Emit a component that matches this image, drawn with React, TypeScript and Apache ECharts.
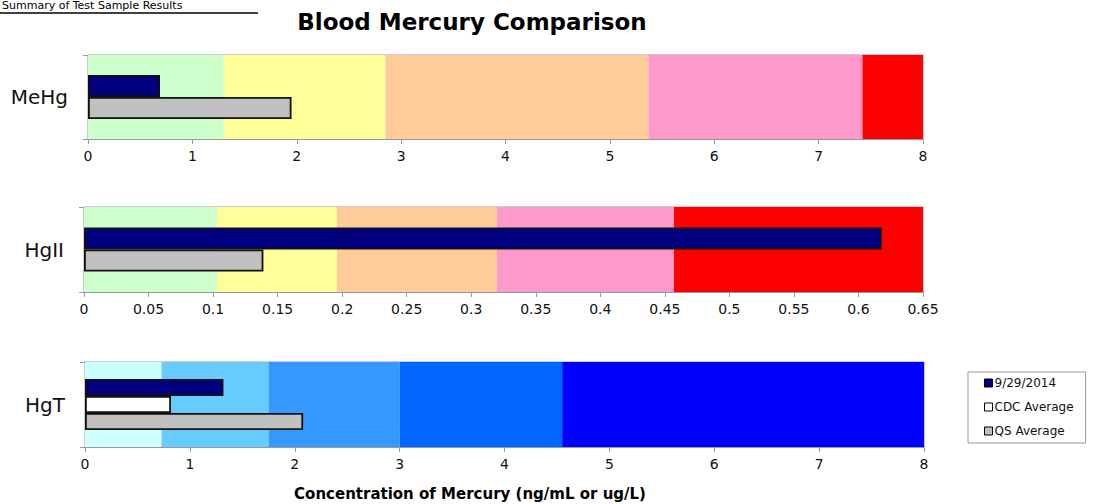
import React, { useEffect, useRef } from "react";
import * as echarts from "echarts";

const title = "Blood Mercury Comparison";
const headerText = "Summary of Test Sample Results";
const axisTitle = "Concentration of Mercury (ng/mL or ug/L)";
const seriesNames = ["9/29/2014", "CDC Average", "QS Average"];
const seriesColors = ["#000080", "#FFFFFF", "#C0C0C0"];

const categories = ["MeHg", "HgII", "HgT"];

// per-panel values: [9/29/2014, CDC Average, QS Average] (null = not shown)
const meHgValues = [0.69, null, 1.95];
const hgIIValues = [0.618, null, 0.139];
const hgTValues = [1.32, 0.82, 2.08];

// background range boundaries
const meHgBands = [0, 1.3, 2.85, 5.37, 7.42, 8];
const hgIIBands = [0, 0.103, 0.196, 0.32, 0.457, 0.65];
const hgTBands = [0, 0.73, 1.75, 3.0, 4.55, 8];

const warmColors = ["#CCFFCC", "#FFFF99", "#FFCC99", "#FF99CC", "#FF0000"];
const blueColors = ["#CCFFFF", "#66CCFF", "#3399FF", "#0066FF", "#0000FF"];

const axisMax = [8, 0.65, 8];
const axisInterval = [1, 0.05, 1];

const FONT = "DejaVu Sans";

export default function App() {
  const ref = useRef<HTMLDivElement>(null);

  useEffect(() => {
    if (!ref.current) return;
    const chart = echarts.init(ref.current, null, { renderer: "svg" });

    const grids = [
      { left: 88, top: 55, width: 835, height: 84 },
      { left: 84, top: 207, width: 839, height: 85 },
      { left: 85, top: 362, width: 839, height: 85 },
    ];
    const panelValues = [meHgValues, hgIIValues, hgTValues];
    const panelBands = [meHgBands, hgIIBands, hgTBands];
    const panelColors = [warmColors, warmColors, blueColors];
    const barWidths = [22, 22, 17];

    const series: any[] = [];
    panelValues.forEach((vals, p) => {
      const bands = panelBands[p];
      const cols = panelColors[p];
      const areaData = cols.map((c, i) => [
        { xAxis: bands[i], itemStyle: { color: c, opacity: 1 } },
        { xAxis: bands[i + 1] },
      ]);
      let first = true;
      vals.forEach((v, s) => {
        if (v === null) return;
        const ser: any = {
          type: "bar",
          name: seriesNames[s],
          xAxisIndex: p,
          yAxisIndex: p,
          data: [v],
          barWidth: barWidths[p],
          barGap: "0%",
          itemStyle: {
            color: seriesColors[s],
            borderColor: "#111",
            borderWidth: 1.8,
          },
          z: 3,
        };
        if (first) {
          ser.markArea = {
            silent: true,
            z: 1,
            data: areaData,
          };
          first = false;
        }
        series.push(ser);
      });
    });

    chart.setOption({
      animation: false,
      textStyle: { fontFamily: FONT },
      grid: grids.map((g) => ({
        ...g,
        show: true,
        borderColor: "#999",
        borderWidth: 1,
        backgroundColor: "transparent",
      })),
      xAxis: grids.map((g, i) => ({
        type: "value",
        gridIndex: i,
        min: 0,
        max: axisMax[i],
        interval: axisInterval[i],
        splitLine: { show: false },
        axisLine: { show: true, lineStyle: { color: "#999", width: 1 } },
        axisTick: { show: true, length: 5, lineStyle: { color: "#999" } },
        axisLabel: { fontSize: 14, color: "#111", margin: 10, fontFamily: FONT },
      })),
      yAxis: grids.map((g, i) => ({
        type: "category",
        gridIndex: i,
        data: [categories[i]],
        inverse: true,
        axisLine: { show: true, lineStyle: { color: "#999", width: 1 } },
        axisTick: { show: true, length: 5, lineStyle: { color: "#999" } },
        axisLabel: { fontSize: 20, color: "#111", margin: 20, fontFamily: FONT },
      })),
      legend: {
        data: seriesNames,
        orient: "vertical",
        left: 968,
        top: 372,
        padding: [5, 12, 6, 16],
        itemGap: 12,
        itemWidth: 8,
        itemHeight: 8,
        icon: "rect",
        borderColor: "#999",
        borderWidth: 1,
        itemStyle: { borderColor: "#000", borderWidth: 1 },
        textStyle: { fontSize: 12, color: "#111", fontFamily: FONT, padding: [0, 0, 0, -3] },
        selectedMode: false,
      },
      graphic: [
        {
          type: "text",
          x: 472,
          y: 22,
          style: {
            text: title,
            fontSize: 23,
            fontWeight: "bold",
            fontFamily: FONT,
            fill: "#000",
            textAlign: "center",
            textVerticalAlign: "middle",
          },
        },
        {
          type: "text",
          x: 470,
          y: 494,
          style: {
            text: axisTitle,
            fontSize: 15,
            fontWeight: "bold",
            fontFamily: FONT,
            fill: "#000",
            textAlign: "center",
            textVerticalAlign: "middle",
          },
        },
        {
          type: "text",
          x: 2,
          y: 0,
          style: {
            text: headerText,
            fontSize: 11,
            fontFamily: FONT,
            fill: "#000",
            textAlign: "left",
            textVerticalAlign: "top",
          },
        },
        {
          type: "line",
          shape: { x1: 0, y1: 13, x2: 258, y2: 13 },
          style: { stroke: "#000", lineWidth: 1.5 },
        },
      ],
      series,
    });

    return () => chart.dispose();
  }, []);

  return (
    <div
      ref={ref}
      style={{ position: "absolute", left: 0, top: 0, width: 1098, height: 504 }}
    />
  );
}
